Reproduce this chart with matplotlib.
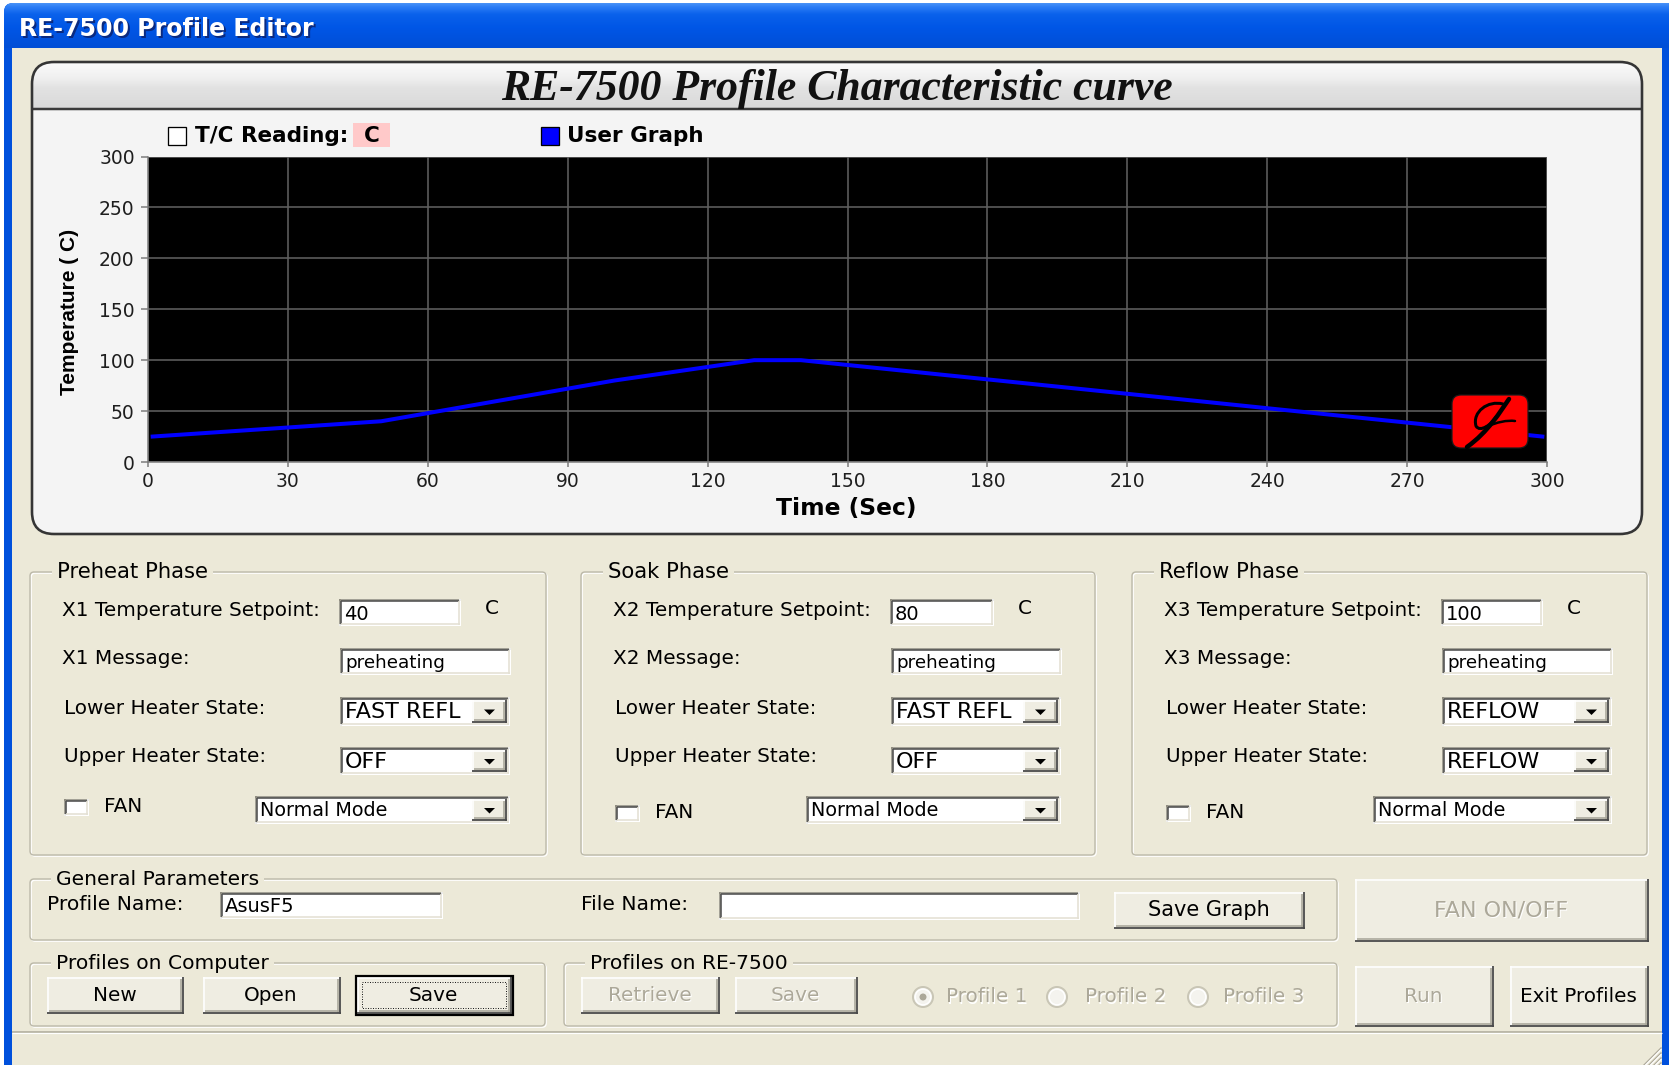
import matplotlib
matplotlib.use('Agg')
import matplotlib.pyplot as plt
from matplotlib.patches import Rectangle, FancyBboxPatch, Polygon, Circle, PathPatch
from matplotlib.path import Path
from matplotlib import font_manager
import numpy as np

# ---------------- data ----------------
time_s = [1, 50, 100, 130, 140, 299]
temp_c = [25, 40, 80, 100, 100, 25]
x_ticks = [0, 30, 60, 90, 120, 150, 180, 210, 240, 270, 300]
y_ticks = [0, 50, 100, 150, 200, 250, 300]

window_title = "RE-7500 Profile Editor"
chart_title = "RE-7500 Profile Characteristic curve"
x_label = "Time (Sec)"
y_label = "Temperature ( C)"
legend_tc = "T/C Reading:"
legend_tc_unit = "C"
legend_user = "User Graph"

phase_names = ["Preheat Phase", "Soak Phase", "Reflow Phase"]
phase_ids = ["X1", "X2", "X3"]
setpoints = ["40", "80", "100"]
messages = ["preheating", "preheating", "preheating"]
lower_states = ["FAST REFL", "FAST REFL", "REFLOW"]
upper_states = ["OFF", "OFF", "REFLOW"]
fan_modes = ["Normal Mode", "Normal Mode", "Normal Mode"]
profile_name = "AsusF5"
file_name = ""
computer_buttons = ["New", "Open", "Save"]
device_buttons = ["Retrieve", "Save"]
device_profiles = ["Profile 1", "Profile 2", "Profile 3"]

# ---------------- style ----------------
W, H = 1669, 1065
PX = 0.72
BEIGE = '#ece9d8'
FACE = '#efede2'
DIS = '#aca899'
UI = 'DejaVu Sans'
UIS = 14.4

plt.rcParams['font.family'] = ['DejaVu Sans']

fig = plt.figure(figsize=(W / 100, H / 100), dpi=100)
fig.patch.set_facecolor('white')
bg = fig.add_axes([0, 0, 1, 1])
bg.set_autoscale_on(False)
bg.set_xlim(0, W)
bg.set_ylim(H, 0)
bg.axis('off')


def rect(ax, x0, y0, x1, y1, fc='none', ec='none', lw=0, z=2):
    p = Rectangle((x0, y0), x1 - x0, y1 - y0, facecolor=fc, edgecolor=ec,
                  linewidth=lw * PX, zorder=z)
    ax.add_patch(p)
    return p


def hl(ax, x0, x1, y, c, lw=1.0, z=3, ls='-'):
    ax.plot([x0, x1], [y, y], color=c, lw=lw * PX, zorder=z, solid_capstyle='butt', ls=ls)


def vl(ax, x, y0, y1, c, lw=1.0, z=3, ls='-'):
    ax.plot([x, x], [y0, y1], color=c, lw=lw * PX, zorder=z, solid_capstyle='butt', ls=ls)


def vgrad(ax, x0, x1, y0, y1, stops, z, clip=None):
    n = 200
    t = np.linspace(0, 1, n)
    pos = [s[0] for s in stops]
    cols = np.array([matplotlib.colors.to_rgb(s[1]) for s in stops])
    arr = np.stack([np.interp(t, pos, cols[:, k]) for k in range(3)], axis=-1)
    arr = arr[:, None, :]
    im = ax.imshow(arr, extent=(x0, x1, y1, y0), aspect='auto', zorder=z,
                   interpolation='bilinear')
    if clip is not None:
        im.set_clip_path(clip)
    return im


def txt(ax, x, y, s, size=UIS, color='black', ha='left', va='center', z=6, **kw):
    return ax.text(x, y, s, fontsize=size, color=color, ha=ha, va=va, zorder=z,
                   family=kw.pop('family', UI), **kw)


def raised(ax, x0, y0, x1, y1, z=4, focused=False):
    rect(ax, x0, y0, x1, y1, fc=FACE, z=z)
    hl(ax, x0, x1, y0 + 0.8, '#ffffff', 1.6, z + 0.1)
    vl(ax, x0 + 0.8, y0, y1, '#ffffff', 1.6, z + 0.1)
    hl(ax, x0 + 1.5, x1 - 1.5, y1 - 2.8, '#a9a79a', 1.6, z + 0.1)
    vl(ax, x1 - 2.8, y0 + 1.5, y1 - 1.5, '#a9a79a', 1.6, z + 0.1)
    hl(ax, x0, x1, y1 - 0.9, '#4a4a4a', 1.8, z + 0.2)
    vl(ax, x1 - 0.9, y0, y1, '#4a4a4a', 1.8, z + 0.2)
    if focused:
        rect(ax, x0 - 1, y0 - 1, x1 + 1, y1 + 1, ec='#000000', lw=2.2, z=z + 0.3)
        p = rect(ax, x0 + 5, y0 + 5, x1 - 6, y1 - 6, ec='#202020', lw=1.0, z=z + 0.3)
        p.set_linestyle((0, (1, 1.5)))


def button(ax, x0, y0, x1, y1, label, enabled=True, focused=False, size=UIS):
    raised(ax, x0, y0, x1, y1, focused=focused)
    cx, cy = (x0 + x1) / 2 - 1, (y0 + y1) / 2
    if enabled:
        txt(ax, cx, cy, label, size=size, ha='center')
    else:
        txt(ax, cx + 1.2, cy + 1.2, label, size=size, ha='center', color='white')
        txt(ax, cx, cy, label, size=size, ha='center', color=DIS, z=6.1)


def sunken(ax, x0, y0, x1, y1, fc='white', z=4):
    rect(ax, x0, y0, x1, y1, fc=fc, z=z)
    hl(ax, x0, x1, y0 + 0.8, '#8d8a7c', 1.6, z + 0.1)
    vl(ax, x0 + 0.8, y0, y1, '#8d8a7c', 1.6, z + 0.1)
    hl(ax, x0 + 1.5, x1 - 1.5, y0 + 2.4, '#505050', 1.6, z + 0.1)
    vl(ax, x0 + 2.4, y0 + 1.5, y1 - 1.5, '#505050', 1.6, z + 0.1)
    hl(ax, x0, x1, y1 - 0.8, '#ffffff', 1.6, z + 0.1)
    vl(ax, x1 - 0.8, y0, y1, '#ffffff', 1.6, z + 0.1)
    hl(ax, x0 + 1.5, x1 - 1.5, y1 - 2.4, '#e4e1d4', 1.6, z + 0.1)
    vl(ax, x1 - 2.4, y0 + 1.5, y1 - 1.5, '#e4e1d4', 1.6, z + 0.1)


def textbox(ax, x0, y0, x1, y1, s, size=13.2):
    sunken(ax, x0, y0, x1, y1)
    if s:
        txt(ax, x0 + 5, (y0 + y1) / 2 + 1.5, s, size=size)


def combo(ax, x0, y0, x1, y1, s, size=16.0):
    sunken(ax, x0, y0, x1, y1)
    txt(ax, x0 + 5, (y0 + y1) / 2 + 0.5, s, size=size)
    bx0, bx1 = x1 - 38, x1 - 3
    raised(ax, bx0, y0 + 3, bx1, y1 - 3, z=5)
    cx, cy = (bx0 + bx1) / 2, (y0 + y1) / 2 + 0.5
    ax.add_patch(Polygon([(cx - 5.5, cy - 2.5), (cx + 5.5, cy - 2.5), (cx, cy + 3)],
                         closed=True, fc='black', ec='none', zorder=5.5))


def groupbox(ax, x0, y0, x1, y1, title, tx, size=15.2):
    p1 = FancyBboxPatch((x0 + 1.2, y0 + 1.2), x1 - x0, y1 - y0,
                        boxstyle='round,pad=0,rounding_size=4', fc='none',
                        ec='#ffffff', lw=1.3 * PX, zorder=3)
    p2 = FancyBboxPatch((x0, y0), x1 - x0, y1 - y0,
                        boxstyle='round,pad=0,rounding_size=4', fc='none',
                        ec='#bcb9a9', lw=1.4 * PX, zorder=3.1)
    ax.add_patch(p1)
    ax.add_patch(p2)
    txt(ax, tx, y0 + 0.5, title, size=size, z=3.5,
        bbox=dict(fc=BEIGE, ec='none', pad=3.5))


def checkbox(ax, x0, y0, s=17):
    sunken(ax, x0, y0, x0 + s + 8, y0 + s)


# ---------------- window frame ----------------
frame = FancyBboxPatch((4, 3), 1720, 1120, boxstyle='round,pad=0,rounding_size=9',
                       fc='#0054e3', ec='none', zorder=0.5)
bg.add_patch(frame)
vgrad(bg, 0, W, 3, 48, [(0, '#4a93f7'), (0.08, '#2d7ef6'), (0.25, '#0a61eb'),
                        (0.55, '#0056e6'), (1, '#004ed6')], 0.6, clip=frame)
rect(bg, 4, 48, 12, H, fc='#0050dc', z=0.7)
rect(bg, 1662, 48, W, H, fc='#0050dc', z=0.7)
rect(bg, 12, 48, 1662, H, fc=BEIGE, z=1)
bg.text(20.5, 30.5, window_title, fontsize=17, fontweight='bold', color='#0a2a80',
        va='center', ha='left', zorder=1.1, family='DejaVu Sans')
bg.text(19, 29, window_title, fontsize=17, fontweight='bold', color='white',
        va='center', ha='left', zorder=1.2, family='DejaVu Sans')

# ---------------- chart panel ----------------
panel = FancyBboxPatch((32, 62), 1610, 472, boxstyle='round,pad=0,rounding_size=22',
                       fc='#f4f4f4', ec='none', zorder=2)
bg.add_patch(panel)
vgrad(bg, 32, 1642, 62, 109, [(0, '#fbfbfb'), (0.35, '#efefef'), (0.55, '#e2e2e2'),
                              (1, '#d9d9d9')], 2.1, clip=panel)
hl(bg, 32, 1642, 109, '#3a3a3a', 2.5, 2.2)
bg.add_patch(FancyBboxPatch((32, 62), 1610, 472, boxstyle='round,pad=0,rounding_size=22',
                            fc='none', ec='#353535', lw=2.6 * PX, zorder=2.3))
bg.text(837, 89, chart_title, fontsize=31.5, fontweight='bold', style='italic',
        family='Liberation Serif', ha='center', va='center', color='#111111', zorder=2.5)

# legend
rect(bg, 168, 127, 186, 145, fc='white', ec='black', lw=1.3, z=3)
bg.text(195, 136.5, legend_tc, fontsize=15.5, fontweight='bold', ha='left', va='center',
        zorder=3, family='DejaVu Sans')
rect(bg, 353, 123, 390, 147, fc='#ffc9c9', z=2.8)
bg.text(372, 136.5, legend_tc_unit, fontsize=15.5, fontweight='bold', ha='center',
        va='center', zorder=3, family='DejaVu Sans')
rect(bg, 541, 127, 559, 145, fc='#0000ff', ec='black', lw=1.3, z=3)
bg.text(567, 136.5, legend_user, fontsize=15.5, fontweight='bold', ha='left', va='center',
        zorder=3, family='DejaVu Sans')

# axis labels
names = {f.name for f in font_manager.fontManager.ttflist}
if 'Liberation Sans Narrow' in names:
    ylab_fam, ylab_size = 'Liberation Sans Narrow', 17.5
elif 'DejaVu Sans Condensed' in names:
    ylab_fam, ylab_size = 'DejaVu Sans Condensed', 15.5
else:
    ylab_fam, ylab_size = 'Liberation Sans', 15
bg.text(69, 312, y_label, rotation=90, fontsize=ylab_size, fontweight='bold',
        family=ylab_fam, ha='center', va='center', zorder=3)
bg.text(846, 508, x_label, fontsize=16.8, fontweight='bold', family='DejaVu Sans',
        ha='center', va='center', zorder=3)

# ---------------- chart axes ----------------
ax = fig.add_axes([148 / W, 1 - 462 / H, (1547 - 148) / W, (462 - 156.5) / H])
ax.set_facecolor('black')
ax.plot(time_s, temp_c, color='#0000ff', lw=4 * PX, zorder=3, solid_joinstyle='round')
ax.set_xlim(0, 300)
ax.set_ylim(0, 300)
ax.set_xticks(x_ticks)
ax.set_yticks(y_ticks)
ax.set_xticklabels([str(v) for v in x_ticks])
ax.set_yticklabels([str(v) for v in y_ticks])
ax.grid(True, color='#5e5e5e', lw=1.6 * PX)
ax.set_axisbelow(True)
for s in ['top', 'right']:
    ax.spines[s].set_visible(False)
for s in ['left', 'bottom']:
    ax.spines[s].set_color('#7a7a7a')
    ax.spines[s].set_linewidth(1.5 * PX)
ax.tick_params(axis='x', length=5 * PX, width=1.5 * PX, color='#7a7a7a', pad=3.5,
               labelsize=13.5, labelcolor='#1e1e1e')
ax.tick_params(axis='y', length=7 * PX, width=1.5 * PX, color='#7a7a7a', pad=4.5,
               labelsize=13.5, labelcolor='#1e1e1e')
for lab in ax.get_xticklabels() + ax.get_yticklabels():
    lab.set_family('DejaVu Sans')

# ---------------- overlay (logo) ----------------
ov = fig.add_axes([0, 0, 1, 1])
ov.set_autoscale_on(False)
ov.set_xlim(0, W)
ov.set_ylim(H, 0)
ov.axis('off')
ov.patch.set_alpha(0)
ov.add_patch(FancyBboxPatch((1452, 395), 76, 53, boxstyle='round,pad=0,rounding_size=9',
                            fc='#ff0000', ec='#1a1a1a', lw=1.2 * PX, zorder=5))
verts = [(1509, 399), (1500, 412), (1488, 432), (1467, 447)]
ov.add_patch(PathPatch(Path(verts, [Path.MOVETO, Path.CURVE4, Path.CURVE4, Path.CURVE4]),
                       fc='none', ec='black', lw=4.5 * PX, zorder=6, capstyle='round'))
verts2 = [(1503, 404), (1488, 400), (1472, 412), (1476, 426), (1480, 433), (1492, 424),
          (1496, 417)]
ov.add_patch(PathPatch(Path(verts2, [Path.MOVETO, Path.CURVE4, Path.CURVE4, Path.CURVE4,
                                     Path.CURVE4, Path.CURVE4, Path.CURVE4]),
                       fc='none', ec='black', lw=3 * PX, zorder=6, capstyle='round'))
verts3 = [(1486, 427), (1497, 422), (1507, 420), (1515, 421)]
ov.add_patch(PathPatch(Path(verts3, [Path.MOVETO, Path.CURVE4, Path.CURVE4, Path.CURVE4]),
                       fc='none', ec='black', lw=2.5 * PX, zorder=6, capstyle='round'))

# ---------------- phase panels ----------------
offsets = [0, 551, 1102]
box_right = [546, 1095, 1647]
setpoint_w = [122, 104, 102]
fan_combo_x0 = [255, 255, 271]
fan_text_y = [806, 812, 812]
check_y0 = [799, 805, 805]
for i in range(3):
    d = offsets[i]
    groupbox(bg, 30 + d, 572, box_right[i], 855, phase_names[i], 57 + d)
    txt(bg, 62 + d, 610, f"{phase_ids[i]} Temperature Setpoint:")
    textbox(bg, 339 + d, 599, 339 + d + setpoint_w[i], 626, setpoints[i], size=14)
    txt(bg, 339 + d + setpoint_w[i] + 31, 609, "C", ha='center')
    txt(bg, 62 + d, 659, f"{phase_ids[i]} Message:")
    textbox(bg, 340 + d, 648, 511 + d, 675, messages[i])
    txt(bg, 64 + d, 708, "Lower Heater State:")
    combo(bg, 340 + d, 697, 510 + d, 726, lower_states[i])
    txt(bg, 64 + d, 757, "Upper Heater State:")
    combo(bg, 340 + d, 747, 510 + d, 775, upper_states[i])
    checkbox(bg, 64 + d, check_y0[i])
    txt(bg, 104 + d, fan_text_y[i], "FAN")
    combo(bg, fan_combo_x0[i] + d, 796, 510 + d, 824, fan_modes[i], size=13.8)

# ---------------- general parameters ----------------
groupbox(bg, 30, 879, 1337, 940, "General Parameters", 56, size=14.6)
txt(bg, 47, 904, "Profile Name:", size=14.6)
textbox(bg, 220, 892, 443, 919, profile_name, size=14)
txt(bg, 581, 904, "File Name:", size=14.6)
textbox(bg, 719, 892, 1080, 920, file_name)
button(bg, 1114, 892, 1305, 929, "Save Graph", size=15)
button(bg, 1355, 879, 1649, 942, "FAN ON/OFF", enabled=False, size=16)

# ---------------- profiles on computer ----------------
groupbox(bg, 30, 963, 545, 1026, "Profiles on Computer", 56, size=14.6)
cb_x = [(47, 184), (203, 341), (357, 512)]
for (x0, x1), lab in zip(cb_x, computer_buttons):
    button(bg, x0, 977, x1, 1014, lab, focused=(lab == "Save"))

# ---------------- profiles on RE-7500 ----------------
groupbox(bg, 564, 963, 1337, 1026, "Profiles on RE-7500", 590, size=14.6)
db_x = [(581, 720), (735, 858)]
for (x0, x1), lab in zip(db_x, device_buttons):
    button(bg, x0, 977, x1, 1014, lab, enabled=False)
radio_cx = [923, 1057, 1198]
radio_tx = [946, 1085, 1223]
for k, lab in enumerate(device_profiles):
    cx = radio_cx[k]
    bg.add_patch(Circle((cx, 997), 10, fc='#f4f3ee', ec='#c9c6b6', lw=2.0 * PX, zorder=4))
    bg.add_patch(Circle((cx, 997), 7.8, fc='none', ec='#ffffff', lw=1.4 * PX, zorder=4.1))
    if k == 0:
        bg.add_patch(Circle((cx, 997), 3.5, fc=DIS, ec='none', zorder=4.2))
    txt(bg, radio_tx[k] + 1.2, 998.2, lab, color='white')
    txt(bg, radio_tx[k], 997, lab, color=DIS, z=6.1)

button(bg, 1355, 966, 1494, 1027, "Run", enabled=False)
button(bg, 1510, 966, 1649, 1027, "Exit Profiles")

# ---------------- status bar ----------------
hl(bg, 12, 1662, 1031.5, '#aca899', 1.5, 2)
hl(bg, 12, 1662, 1033, '#ffffff', 1.2, 2)
for k in range(4):
    o = 5 * k
    bg.plot([1644 + o, 1661], [H, 1048 + o], color='#aca899', lw=1.4 * PX, zorder=3)
    bg.plot([1645.5 + o, 1661], [H, 1049.5 + o], color='white', lw=1.2 * PX, zorder=3)

bg.set_xlim(0, W)
bg.set_ylim(H, 0)
fig.savefig('out.png', dpi=100, facecolor=fig.get_facecolor())
